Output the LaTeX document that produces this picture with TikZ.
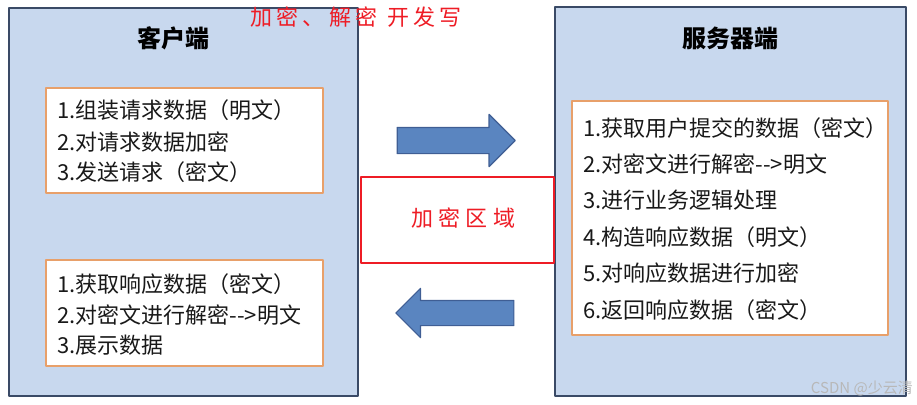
\documentclass[tikz,border=0pt]{standalone}
\usepackage{fontspec}
\setmainfont{Noto Sans CJK SC}
\newfontfamily\cjk{Noto Sans CJK SC}
\newfontfamily\redcjk[LetterSpace=20]{Noto Sans CJK SC}
\newfontfamily\zonecjk[LetterSpace=24]{Noto Sans CJK SC}
\usetikzlibrary{shapes.arrows}

\definecolor{panelfill}{HTML}{C8D8EE}
\definecolor{paneldraw}{HTML}{3A4A66}
\definecolor{boxdraw}{HTML}{E8A06A}
\definecolor{arrowfill}{HTML}{5A85C0}
\definecolor{arrowdraw}{HTML}{3F5E94}
\definecolor{notered}{HTML}{EE1C25}

\begin{document}
\begin{tikzpicture}[
    x=1pt, y=-1pt,
    line join=round,
    panel/.style={draw=paneldraw, fill=panelfill, line width=2pt, inner sep=0pt},
    itembox/.style={draw=boxdraw, fill=white, line width=2pt, inner sep=0pt},
    title/.style={font=\fontsize{24}{28}\selectfont\cjk\bfseries},
    item/.style={anchor=west, inner sep=0pt, text=black!90,
        font=\fontsize{22}{26}\selectfont\cjk},
    fatarrow/.style={single arrow, draw=arrowdraw, fill=arrowfill,
        line width=1.2pt, inner xsep=0pt, single arrow tip angle=90,
        single arrow head indent=0pt, anchor=tip}
]

% -------------------------------------------------
% Canvas
% -------------------------------------------------

\useasboundingbox (0,0) rectangle (917,404);

% -------------------------------------------------
% Client side
% -------------------------------------------------

\node[panel, minimum width=349pt, minimum height=388pt] (client) at (183.5,202) {};
\node[title] (clienttitle) at (173,38) {客户端};

% Request box
\node[itembox, minimum width=277pt, minimum height=105pt] (request) at (184.5,140.5) {};
\node[item] (req1) at (57,110) {1.组装请求数据（明文）};
\node[item] (req2) at (57,142) {2.对请求数据加密};
\node[item] (req3) at (57,172) {3.发送请求（密文）};

% Response box
\node[itembox, minimum width=277pt, minimum height=106pt] (response) at (184.5,313) {};
\node[item] (resp1) at (57,284) {1.获取响应数据（密文）};
\node[item] (resp2) at (57,315) {2.对密文进行解密-->明文};
\node[item] (resp3) at (57,345) {3.展示数据};

% -------------------------------------------------
% Server side
% -------------------------------------------------

\node[panel, minimum width=351pt, minimum height=388pt] (server) at (730.5,201.5) {};
\node[title] (servertitle) at (730,38) {服务器端};

\node[itembox, minimum width=316pt, minimum height=234pt] (work) at (730,218) {};
\node[item] (work1) at (583,128) {1.获取用户提交的数据（密文）};
\node[item] (work2) at (583,164) {2.对密文进行解密-->明文};
\node[item] (work3) at (583,200) {3.进行业务逻辑处理};
\node[item] (work4) at (583,237) {4.构造响应数据（明文）};
\node[item] (work5) at (583,273) {5.对响应数据进行加密};
\node[item] (work6) at (583,310) {6.返回响应数据（密文）};

% -------------------------------------------------
% Encrypted zone and transfer arrows
% -------------------------------------------------

\node[draw=notered, line width=2.5pt, fill=white,
    minimum width=193pt, minimum height=86pt] (zone) at (457.5,220) {};
\node[anchor=west, inner sep=0pt, text=notered,
    font=\fontsize{22}{26}\selectfont\zonecjk] (zonelabel) at (411,218) {加密区域};

\node[fatarrow, inner ysep=12.5pt, minimum height=118pt,
    single arrow head extend=13pt] (send) at (516,140.5) {};
\node[fatarrow, inner ysep=12pt, minimum height=118pt,
    single arrow head extend=12pt, shape border rotate=180] (reply) at (395,313) {};

% -------------------------------------------------
% Notes
% -------------------------------------------------

\node[anchor=west, inner sep=0pt, text=notered,
    font=\fontsize{22}{26}\selectfont\redcjk] (note) at (250,17) {加密、解密\ 开发写};

\node[anchor=east, inner sep=0pt, text=black!28,
    font=\fontsize{15}{18}\selectfont\cjk] (mark) at (913,388) {CSDN @少云清};

\end{tikzpicture}
\end{document}
